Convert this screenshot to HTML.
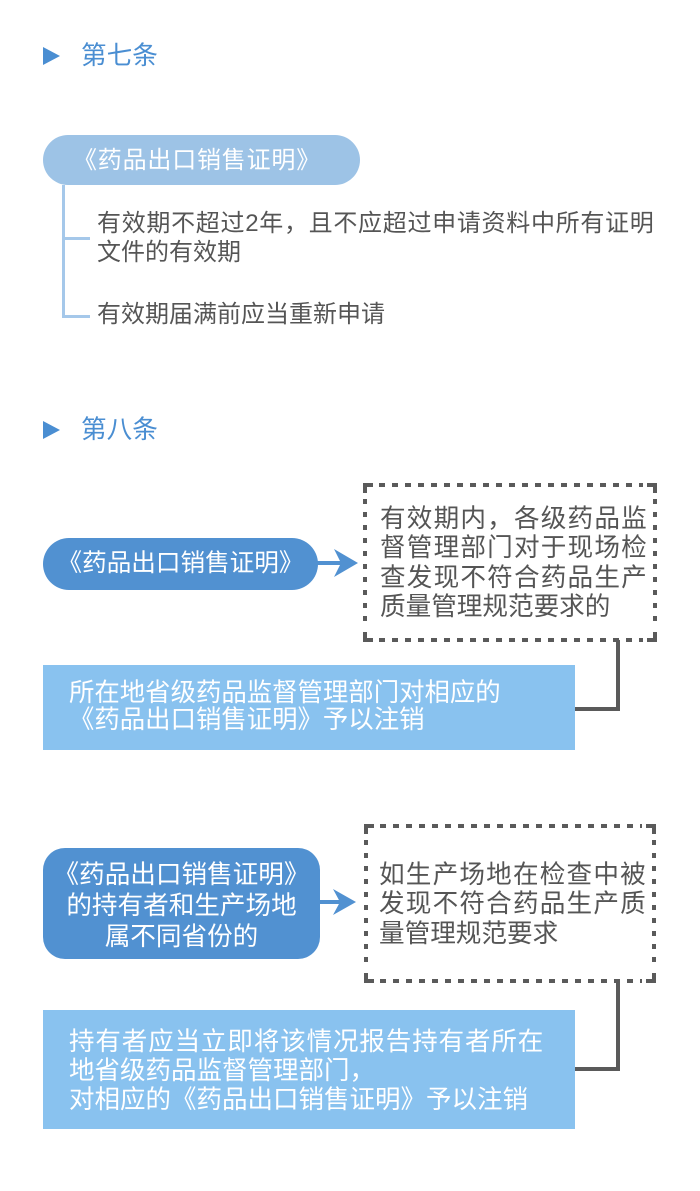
<!DOCTYPE html>
<html>
<head>
<meta charset="utf-8">
<style>
  html,body{margin:0;padding:0;background:#fff;}
  body{width:700px;height:1191px;position:relative;overflow:hidden;
       font-family:"Liberation Sans","Noto Sans CJK SC",sans-serif;}
  .t{position:absolute;white-space:nowrap;line-height:30px;}
  .title{color:#4a8ed2;font-size:25.6px;}
  .gray{color:#555555;}
  .w{color:#ffffff;}
</style>
</head>
<body>
<svg width="700" height="1191" style="position:absolute;left:0;top:0" xmlns="http://www.w3.org/2000/svg">
  <!-- title triangles -->
  <polygon points="43,47 43,65 60,56" fill="#4a8ed2"/>
  <polygon points="43,421 43,439 60,430" fill="#4a8ed2"/>

  <!-- section 1 pill -->
  <rect x="43" y="135" width="317" height="50" rx="25" ry="25" fill="#9dc3e6"/>
  <!-- tree lines -->
  <rect x="62" y="185" width="3" height="133" fill="#a5c8ea"/>
  <rect x="62" y="237" width="28" height="3" fill="#a5c8ea"/>
  <rect x="62" y="315" width="28" height="3" fill="#a5c8ea"/>

  <!-- section 2, block 1 -->
  <rect x="43" y="538" width="275" height="52" rx="26" ry="26" fill="#5191d1"/>
  <rect x="317" y="561" width="25" height="4" fill="#5191d1"/>
  <polygon points="358,563 334,549 341,563 334,577" fill="#5191d1"/>

  <g stroke="#5a5a5a" stroke-width="4" fill="none">
    <!-- dashed box 1 corners -->
    <path d="M365,493 L365,485 L373,485"/>
    <path d="M647,485 L655,485 L655,493"/>
    <path d="M365,632 L365,640 L373,640"/>
    <path d="M647,640 L655,640 L655,632"/>
    <line x1="379" y1="485" x2="643" y2="485" stroke-dasharray="6 7"/>
    <line x1="379" y1="640" x2="643" y2="640" stroke-dasharray="6 7"/>
    <line x1="365" y1="499" x2="365" y2="628" stroke-dasharray="5 8"/>
    <line x1="655" y1="499" x2="655" y2="628" stroke-dasharray="5 8"/>
    <!-- connector 1 -->
    <path d="M618,640 L618,709 L575,709"/>

    <!-- dashed box 2 corners -->
    <path d="M366,834 L366,826 L374,826"/>
    <path d="M646,826 L654,826 L654,834"/>
    <path d="M366,973 L366,981 L374,981"/>
    <path d="M646,981 L654,981 L654,973"/>
    <line x1="380" y1="826" x2="642" y2="826" stroke-dasharray="6 7"/>
    <line x1="380" y1="981" x2="642" y2="981" stroke-dasharray="6 7"/>
    <line x1="366" y1="840" x2="366" y2="969" stroke-dasharray="5 8"/>
    <line x1="654" y1="840" x2="654" y2="969" stroke-dasharray="5 8"/>
    <!-- connector 2 -->
    <path d="M618,981 L618,1069 L575,1069"/>
  </g>

  <rect x="43" y="665" width="532" height="85" fill="#89c2ef"/>

  <!-- section 2, block 2 -->
  <rect x="43" y="848" width="277" height="111" rx="22" ry="22" fill="#5191d1"/>
  <rect x="319" y="900" width="23" height="4" fill="#5191d1"/>
  <polygon points="356,902 333,889 340,902 333,915" fill="#5191d1"/>

  <rect x="43" y="1010" width="532" height="119" fill="#89c2ef"/>
</svg>

<!-- titles -->
<div class="t title" style="left:81px;top:41px;">第七条</div>
<div class="t title" style="left:81px;top:415px;">第八条</div>

<!-- section 1 -->
<div class="t w" style="left:73px;top:146px;font-size:24px;letter-spacing:0.8px;">《药品出口销售证明》</div>
<div class="t gray" style="left:97px;top:209px;font-size:24px;letter-spacing:0.7px;">有效期不超过2年，且不应超过申请资料中所有证明</div>
<div class="t gray" style="left:97px;top:238px;font-size:24px;">文件的有效期</div>
<div class="t gray" style="left:97px;top:300px;font-size:24px;">有效期届满前应当重新申请</div>

<!-- section 2 block 1 -->
<div class="t w" style="left:43px;width:275px;text-align:center;top:548.5px;font-size:24.6px;">《药品出口销售证明》</div>

<div class="t gray" style="left:380px;top:504px;font-size:25.6px;letter-spacing:1.2px;">有效期内，各级药品监</div>
<div class="t gray" style="left:380px;top:533px;font-size:25.6px;letter-spacing:1.2px;">督管理部门对于现场检</div>
<div class="t gray" style="left:380px;top:563px;font-size:25.6px;letter-spacing:1.2px;">查发现不符合药品生产</div>
<div class="t gray" style="left:380px;top:592px;font-size:25.6px;">质量管理规范要求的</div>

<div class="t w" style="left:69px;top:677.5px;font-size:25.4px;">所在地省级药品监督管理部门对相应的</div>
<div class="t w" style="left:69px;top:705px;font-size:25.4px;">《药品出口销售证明》予以注销</div>

<!-- section 2 block 2 -->
<div class="t w" style="left:43px;width:277px;text-align:center;top:860px;font-size:25.6px;">《药品出口销售证明》</div>
<div class="t w" style="left:43px;width:277px;text-align:center;top:891px;font-size:25.6px;">的持有者和生产场地</div>
<div class="t w" style="left:43px;width:277px;text-align:center;top:921.5px;font-size:25.6px;">属不同省份的</div>

<div class="t gray" style="left:379px;top:860px;font-size:25.6px;letter-spacing:1.2px;">如生产场地在检查中被</div>
<div class="t gray" style="left:379px;top:889px;font-size:25.6px;letter-spacing:1.2px;">发现不符合药品生产质</div>
<div class="t gray" style="left:379px;top:918.5px;font-size:25.6px;">量管理规范要求</div>

<div class="t w" style="left:69px;top:1027px;font-size:25.5px;letter-spacing:0.9px;">持有者应当立即将该情况报告持有者所在</div>
<div class="t w" style="left:69px;top:1056px;font-size:25.5px;">地省级药品监督管理部门，</div>
<div class="t w" style="left:69px;top:1085px;font-size:25.5px;">对相应的《药品出口销售证明》予以注销</div>
</body>
</html>
